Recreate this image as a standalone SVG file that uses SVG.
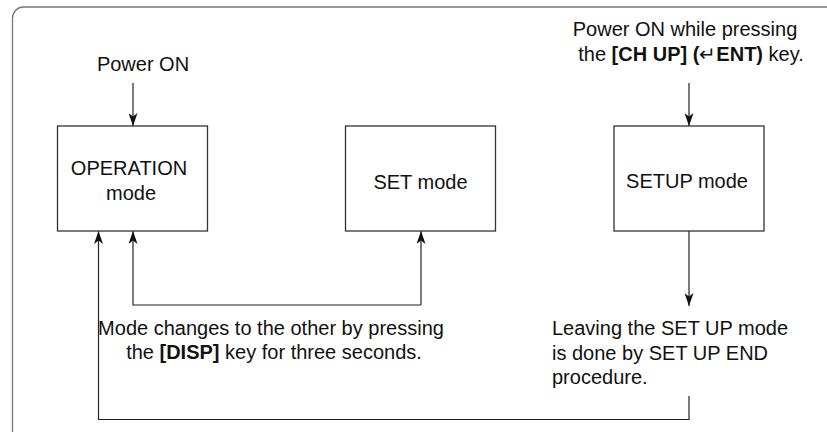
<svg xmlns="http://www.w3.org/2000/svg" width="827" height="432" viewBox="0 0 827 432">
<style>
text{font-family:"Liberation Sans",Arial,sans-serif;font-size:20px;fill:#111}
.b{font-weight:bold}
.box{fill:#fff;stroke:#333;stroke-width:1.3}
.ln{fill:none;stroke:#222;stroke-width:1.2}
</style>
<defs>
<marker id="ah" viewBox="0 0 13 9" refX="13" refY="4.5" markerWidth="13" markerHeight="9" orient="auto" markerUnits="userSpaceOnUse">
<path d="M0,0 L13,4.5 L0,9 L3.5,4.5 Z" fill="#111"/>
</marker>
</defs>
<rect x="12.5" y="7" width="840" height="440" rx="11" fill="none" stroke="#777" stroke-width="1.3"/>
<g id="connectors">
<line class="ln" x1="133" y1="83" x2="133" y2="126" marker-end="url(#ah)"/>
<line class="ln" x1="689" y1="83" x2="689" y2="126" marker-end="url(#ah)"/>
<line class="ln" x1="689" y1="231" x2="689" y2="306" marker-end="url(#ah)"/>
<polyline class="ln" points="421,305 133,305 133,231" marker-end="url(#ah)"/>
<line class="ln" x1="421" y1="305" x2="421" y2="231" marker-end="url(#ah)"/>
<polyline class="ln" points="689,396 689,419.5 98.5,419.5 98.5,231" marker-end="url(#ah)"/>
</g>
<g id="power-on">
<text x="143" y="71" text-anchor="middle">Power ON</text>
</g>
<g id="power-on-setup">
<text x="685" y="36" text-anchor="middle">Power ON while pressing</text>
<text x="691" y="61" text-anchor="middle">the <tspan class="b">[CH UP] (</tspan>↵<tspan class="b">ENT)</tspan> key.</text>
</g>
<g id="operation-mode">
<rect class="box" x="57.5" y="126" width="150" height="105"/>
<text x="129" y="175" text-anchor="middle">OPERATION</text>
<text x="131" y="200" text-anchor="middle">mode</text>
</g>
<g id="set-mode">
<rect class="box" x="345.5" y="126" width="150" height="105"/>
<text x="420.5" y="189" text-anchor="middle">SET mode</text>
</g>
<g id="setup-mode">
<rect class="box" x="614" y="126" width="150" height="105"/>
<text x="687" y="188" text-anchor="middle">SETUP mode</text>
</g>
<g id="disp-note">
<text x="271" y="335" text-anchor="middle">Mode changes to the other by pressing</text>
<text x="274" y="359" text-anchor="middle">the <tspan class="b">[DISP]</tspan> key for three seconds.</text>
</g>
<g id="leave-note">
<text x="552" y="335">Leaving the SET UP mode</text>
<text x="552" y="360">is done by SET UP END</text>
<text x="552" y="384">procedure.</text>
</g>
</svg>
